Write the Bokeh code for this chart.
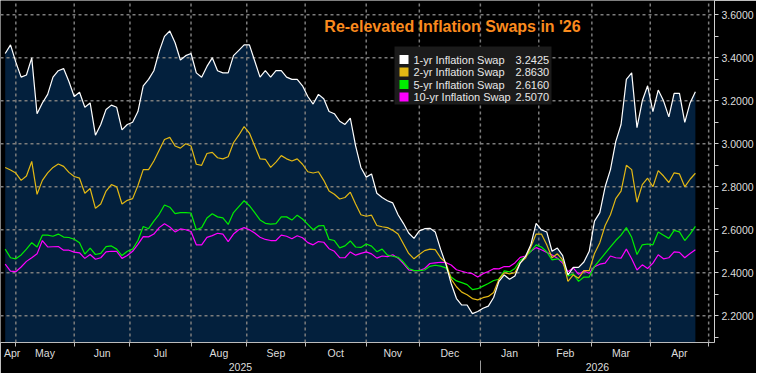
import pandas as pd
from bokeh.plotting import figure
from bokeh.models import (Range1d, LinearAxis, FixedTicker, NumeralTickFormatter,
                          Label, BoxAnnotation, PolyAnnotation)
from bokeh.embed import file_html
from bokeh.resources import INLINE

# ---------------- data ----------------
TITLE = "Re-elevated Inflation Swaps in '26"
SERIES_NAMES = ["1-yr Inflation Swap", "2-yr Inflation Swap",
                "5-yr Inflation Swap", "10-yr Inflation Swap"]
LAST_VALUES = ["3.2425", "2.8630", "2.6160", "2.5070"]
MONTH_NAMES = ["Apr", "May", "Jun", "Jul", "Aug", "Sep", "Oct", "Nov",
               "Dec", "Jan", "Feb", "Mar", "Apr"]
YEAR_LABELS = ["2025", "2026"]
Y_TICKS = [2.2, 2.4, 2.6, 2.8, 3.0, 3.2, 3.4, 3.6]
Y_MINOR = [2.1, 2.3, 2.5, 2.7, 2.9, 3.1, 3.3, 3.5]

FIRST_DAY = "2025-04-24"      # first business day shown
AXIS_LAST_DAY = "2026-05-29"  # business-day axis extends past the data
SAMPLE_START = 1              # values read every 2nd business day
SAMPLE_STEP = 2

swap_1y = [3.42, 3.46, 3.38, 3.31, 3.32, 3.40, 3.14, 3.19, 3.23, 3.31,
           3.34, 3.35, 3.29, 3.22, 3.24, 3.17, 3.19, 3.04, 3.09, 3.16,
           3.18, 3.17, 3.065, 3.09, 3.10, 3.15, 3.27, 3.30, 3.34, 3.43,
           3.50, 3.525, 3.47, 3.39, 3.41, 3.42, 3.33, 3.31, 3.36, 3.40,
           3.34, 3.33, 3.33, 3.41, 3.435, 3.46, 3.46, 3.385, 3.31, 3.34,
           3.31, 3.34, 3.34, 3.31, 3.30, 3.30, 3.27, 3.22, 3.185, 3.23,
           3.21, 3.15, 3.14, 3.105, 3.09, 3.12, 2.99, 2.89, 2.845, 2.86,
           2.77, 2.75, 2.735, 2.725, 2.67, 2.63, 2.585, 2.56, 2.595, 2.605,
           2.607, 2.59, 2.51, 2.44, 2.35, 2.28, 2.25, 2.25, 2.21, 2.22,
           2.235, 2.245, 2.285, 2.36, 2.39, 2.37, 2.385, 2.445, 2.476, 2.53,
           2.63, 2.60, 2.59, 2.50, 2.515, 2.48, 2.39, 2.425, 2.425, 2.45,
           2.50, 2.64, 2.68, 2.80, 2.88, 3.01, 3.09, 3.30, 3.33, 3.075,
           3.20, 3.27, 3.15, 3.25, 3.20, 3.125, 3.235, 3.235, 3.10, 3.19,
           3.2425]

swap_2y = [2.89, 2.878, 2.864, 2.83, 2.85, 2.918, 2.765, 2.83, 2.865, 2.89,
           2.906, 2.895, 2.867, 2.848, 2.84, 2.77, 2.792, 2.70, 2.72, 2.78,
           2.81, 2.80, 2.72, 2.737, 2.745, 2.806, 2.88, 2.88, 2.92, 2.97,
           3.02, 3.03, 2.99, 2.98, 3.00, 2.99, 2.905, 2.90, 2.955, 2.96,
           2.935, 2.93, 2.94, 3.005, 3.04, 3.08, 3.05, 2.99, 2.93, 2.928,
           2.89, 2.915, 2.945, 2.93, 2.92, 2.93, 2.905, 2.87, 2.864, 2.87,
           2.83, 2.78, 2.765, 2.743, 2.75, 2.775, 2.72, 2.67, 2.663, 2.668,
           2.62, 2.614, 2.61, 2.598, 2.58, 2.535, 2.49, 2.465, 2.485, 2.503,
           2.51, 2.508, 2.47, 2.447, 2.37, 2.335, 2.31, 2.298, 2.28, 2.274,
           2.284, 2.29, 2.308, 2.37, 2.40, 2.395, 2.40, 2.446, 2.468, 2.52,
           2.58, 2.58, 2.53, 2.47, 2.488, 2.46, 2.36, 2.39, 2.375, 2.41,
           2.41, 2.49, 2.54, 2.62, 2.67, 2.745, 2.78, 2.90, 2.88, 2.728,
           2.81, 2.84, 2.80, 2.875, 2.85, 2.82, 2.865, 2.86, 2.80, 2.835,
           2.863]

swap_5y = [2.51, 2.47, 2.465, 2.483, 2.51, 2.54, 2.52, 2.575, 2.575, 2.57,
           2.58, 2.566, 2.564, 2.556, 2.54, 2.487, 2.515, 2.485, 2.49, 2.522,
           2.525, 2.51, 2.48, 2.50, 2.51, 2.55, 2.615, 2.605, 2.64, 2.672,
           2.715, 2.705, 2.675, 2.68, 2.68, 2.678, 2.60, 2.61, 2.655, 2.675,
           2.66, 2.655, 2.625, 2.68, 2.708, 2.735, 2.712, 2.68, 2.646, 2.63,
           2.626, 2.629, 2.66, 2.66, 2.645, 2.668, 2.65, 2.625, 2.60, 2.618,
           2.62, 2.555, 2.55, 2.516, 2.525, 2.548, 2.52, 2.518, 2.534, 2.524,
           2.498, 2.51, 2.482, 2.477, 2.472, 2.45, 2.42, 2.41, 2.41, 2.413,
           2.43, 2.435, 2.431, 2.423, 2.38, 2.362, 2.354, 2.345, 2.322, 2.326,
           2.338, 2.35, 2.364, 2.37, 2.409, 2.404, 2.42, 2.458, 2.475, 2.50,
           2.53, 2.52, 2.498, 2.46, 2.465, 2.455, 2.385, 2.395, 2.36, 2.38,
           2.38, 2.43, 2.46, 2.49, 2.52, 2.55, 2.575, 2.61, 2.565, 2.485,
           2.53, 2.534, 2.53, 2.59, 2.575, 2.56, 2.597, 2.59, 2.55, 2.58,
           2.616]

swap_10y = [2.44, 2.408, 2.405, 2.427, 2.453, 2.47, 2.488, 2.55, 2.52, 2.521,
            2.522, 2.505, 2.505, 2.496, 2.493, 2.467, 2.485, 2.463, 2.47, 2.497,
            2.50, 2.50, 2.467, 2.48, 2.50, 2.532, 2.568, 2.567, 2.58, 2.61,
            2.628, 2.613, 2.59, 2.604, 2.60, 2.592, 2.53, 2.53, 2.565, 2.573,
            2.584, 2.58, 2.545, 2.58, 2.60, 2.61, 2.60, 2.585, 2.565, 2.555,
            2.55, 2.55, 2.575, 2.57, 2.558, 2.572, 2.563, 2.54, 2.53, 2.545,
            2.542, 2.512, 2.50, 2.47, 2.47, 2.497, 2.482, 2.49, 2.497, 2.488,
            2.468, 2.478, 2.475, 2.484, 2.468, 2.443, 2.413, 2.41, 2.41, 2.42,
            2.443, 2.446, 2.449, 2.447, 2.436, 2.414, 2.407, 2.40, 2.396, 2.38,
            2.396, 2.406, 2.419, 2.418, 2.429, 2.429, 2.446, 2.472, 2.478, 2.50,
            2.517, 2.507, 2.495, 2.483, 2.468, 2.445, 2.405, 2.423, 2.393, 2.408,
            2.398, 2.428, 2.44, 2.445, 2.478, 2.47, 2.468, 2.51, 2.465, 2.413,
            2.437, 2.42, 2.445, 2.484, 2.465, 2.47, 2.497, 2.495, 2.47, 2.49,
            2.507]

SERIES = [swap_1y, swap_2y, swap_5y, swap_10y]
COLORS = ["#ffffff", "#e3b814", "#00ee00", "#ff00ff"]
TAG_TEXT = ["#000000", "#000000", "#000000", "#ffffff"]
NAVY = "#03203d"
GRID = "#7c7c7c"

# ---------------- x positions (business-day index) ----------------
days = pd.bdate_range(FIRST_DAY, AXIS_LAST_DAY)
xs = list(range(SAMPLE_START, SAMPLE_START + SAMPLE_STEP * len(swap_1y), SAMPLE_STEP))

month_starts = [i for i in range(1, len(days)) if days[i].month != days[i - 1].month]
jan_idx = [i for i in month_starts if days[i].year == 2026 and days[i].month == 1][0]

X0, X1 = -0.77, 268.2
Y0, Y1 = 2.0756, 3.6667
FW, FH = 714, 342

label_pos = [month_starts[0] - 1.4]
for a, b in zip(month_starts[:-1], month_starts[1:]):
    label_pos.append((a + b) / 2)
label_pos = label_pos[:len(MONTH_NAMES)]
year_pos = [(X0 + jan_idx) / 2, (jan_idx + X1) / 2]

FONT = "Liberation Sans"
AX_COLOR = "#dddddd"

p = figure(frame_width=FW, frame_height=FH,
           x_range=Range1d(X0, X1), y_range=Range1d(Y0, Y1),
           y_axis_location="right", output_backend="svg", toolbar_location=None,
           background_fill_color="#000000", border_fill_color="#000000",
           outline_line_color=None, min_border_left=0, min_border_top=0,
           min_border_right=0, min_border_bottom=0)
p.xgrid.visible = False
p.ygrid.visible = False

# area under the 1-yr line
p.varea(x=xs, y1=[Y0] * len(xs), y2=swap_1y, fill_color=NAVY)

# dotted grid at the axis ticks, above the fill and below the lines
p.multi_line(xs=[[m, m] for m in month_starts], ys=[[Y0, Y1]] * len(month_starts),
             line_color=GRID, line_width=1.5, line_dash="3 3")
p.multi_line(xs=[[X0, X1]] * len(Y_TICKS), ys=[[t, t] for t in Y_TICKS],
             line_color=GRID, line_width=1.5, line_dash="3 3")

for vals, col in zip(SERIES[::-1], COLORS[::-1]):
    p.line(xs, vals, line_color=col, line_width=1.2, level="annotation")

# right axis: ticks every 0.1, labels every 0.2
ya = p.yaxis[0]
ya.ticker = FixedTicker(ticks=sorted(Y_TICKS + Y_MINOR))
ya.formatter = NumeralTickFormatter(format="0.0000")
ya.major_label_overrides = {t: "" for t in Y_MINOR}
ya.axis_line_color = "#d0d0d0"
ya.major_tick_line_color = "#d0d0d0"
ya.major_tick_in = 0
ya.major_tick_out = 4
ya.minor_tick_line_color = None
ya.major_label_standoff = 3
ya.major_label_text_color = AX_COLOR
ya.major_label_text_font = FONT
ya.major_label_text_font_size = "10.5px"


def hidden_labels(ax):
    ax.major_label_text_color = None
    ax.major_label_text_font_size = "1px"
    ax.major_label_standoff = 0


def style_labels(ax, standoff):
    ax.major_label_text_color = AX_COLOR
    ax.major_label_text_font = FONT
    ax.major_label_text_font_size = "10.5px"
    ax.major_label_standoff = standoff


# A: month-boundary ticks on the frame's bottom edge
xa = p.xaxis[0]
xa.ticker = FixedTicker(ticks=month_starts)
xa.axis_line_color = "#bbbbbb"
xa.major_tick_line_color = "#bbbbbb"
xa.major_tick_in = 0
xa.major_tick_out = 4
xa.minor_tick_line_color = None
hidden_labels(xa)

# B: month names centred in each month
xb = LinearAxis(ticker=FixedTicker(ticks=label_pos),
                major_label_overrides={pos: n for pos, n in zip(label_pos, MONTH_NAMES)},
                axis_line_color=None, major_tick_line_color=None,
                minor_tick_line_color=None, major_tick_out=0, major_tick_in=0)
style_labels(xb, 0)
p.add_layout(xb, "below")

# C: years
xc = LinearAxis(ticker=FixedTicker(ticks=year_pos),
                major_label_overrides={pos: t for pos, t in zip(year_pos, YEAR_LABELS)},
                axis_line_color=None, major_tick_line_color=None,
                minor_tick_line_color=None, major_tick_out=0, major_tick_in=0)
style_labels(xc, 1)
p.add_layout(xc, "below")

# D: year separator drawn upward into the year row
xd = LinearAxis(ticker=FixedTicker(ticks=[jan_idx]),
                axis_line_color=None, major_tick_line_color="#9a9a9a",
                minor_tick_line_color=None, major_tick_out=0, major_tick_in=13)
hidden_labels(xd)
p.add_layout(xd, "below")


def ydata(y_from_top):
    return Y1 - y_from_top / FH * (Y1 - Y0)


# title
p.add_layout(Label(x=452, x_units="screen", y=ydata(25.5), text=TITLE,
                   text_align="center", text_baseline="alphabetic",
                   text_color="#fb8b1e", text_font=FONT, text_font_style="bold",
                   text_font_size="16px"))

# legend
p.add_layout(BoxAnnotation(left=394, right=551, left_units="screen", right_units="screen",
                           top=ydata(46), bottom=ydata(104),
                           fill_color="#1b1b1b", fill_alpha=1.0, line_color=None))
row_y = [59, 71.5, 84, 96.5]
for name, val, col, ry in zip(SERIES_NAMES, LAST_VALUES, COLORS, row_y):
    p.add_layout(BoxAnnotation(left=399, right=408, left_units="screen", right_units="screen",
                               top=ydata(ry - 4.5), bottom=ydata(ry + 4.5),
                               fill_color=col, fill_alpha=1.0, line_color=None))
    p.add_layout(Label(x=413, x_units="screen", y=ydata(ry), text=name,
                       text_align="left", text_baseline="middle", text_color="#e8e8e8",
                       text_font=FONT, text_font_size="11px"))
    p.add_layout(Label(x=515, x_units="screen", y=ydata(ry), text=val,
                       text_align="left", text_baseline="middle", text_color="#e8e8e8",
                       text_font=FONT, text_font_size="11px"))

# last-value tags on the right axis
half = 6.2 / FH * (Y1 - Y0)
for vals, val, col, tcol in zip(SERIES, LAST_VALUES, COLORS, TAG_TEXT):
    v = vals[-1]
    p.add_layout(PolyAnnotation(xs=[FW + 1, FW + 5, FW + 41, FW + 41, FW + 5],
                                ys=[v, v + half, v + half, v - half, v - half],
                                xs_units="screen", ys_units="data",
                                fill_color=col, fill_alpha=1.0, line_color=None))
    p.add_layout(Label(x=FW + 6, x_units="screen", y=v, text=val,
                       text_align="left", text_baseline="middle", text_color=tcol,
                       text_font=FONT, text_font_size="10.5px"))

open("out.html", "w").write(file_html(p, INLINE))
